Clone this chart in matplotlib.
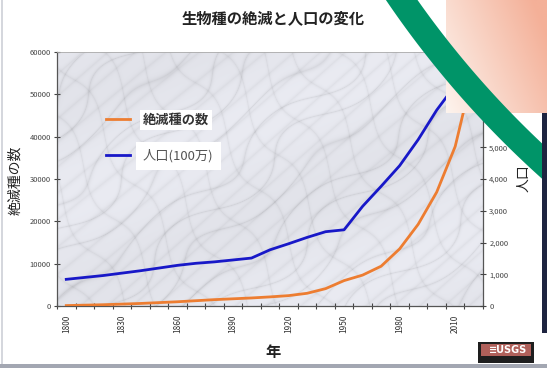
import numpy as np
import matplotlib.pyplot as plt
from matplotlib.patches import Polygon, Rectangle
from matplotlib.lines import Line2D

plt.rcParams['font.family'] = ['Noto Sans CJK JP', 'DejaVu Sans']

# decade categories 1800..2020
years = list(range(1800, 2030, 10))
extinct = [100, 200, 300, 450, 600, 800, 1000, 1250, 1500, 1700, 1900, 2150,
           2450, 3000, 4100, 6000, 7300, 9400, 13500, 19300, 26900, 37700, 56000]
population = [840, 900, 960, 1035, 1110, 1195, 1280, 1345, 1390, 1450, 1510, 1770,
              1960, 2160, 2340, 2400, 3140, 3770, 4420, 5240, 6170, 6950, 7750]
left_ticks = [0, 10000, 20000, 30000, 40000, 50000, 60000]
right_ticks = [0, 1000, 2000, 3000, 4000, 5000, 6000, 7000, 8000]
label_years = [1800, 1830, 1860, 1890, 1920, 1950, 1980, 2010]

W, H = 547, 368


def fx(x):
    return x / W


def fy(y):
    return 1 - y / H


fig = plt.figure(figsize=(W / 100, H / 100), dpi=100)
fig.patch.set_facecolor('white')

ax = fig.add_axes([fx(57), fy(306), fx(483) - fx(57), fy(52) - fy(306)])
idx = np.arange(len(years))

# marble-like background (decoration only)
gy, gx = np.mgrid[0:254, 0:426].astype(float)
t = gx * 0.045 + gy * 0.055 + 0.7 * np.sin(gx * 0.04 - gy * 0.02) + 0.5 * np.sin(gy * 0.07 + gx * 0.01)
t2 = gx * 0.06 - gy * 0.035 + 0.6 * np.cos(gx * 0.05 + gy * 0.03)
t3 = gx * 0.11 + gy * 0.13 + 0.9 * np.sin(gx * 0.021 + gy * 0.017)
v = (0.93
     - 0.07 * (1 - np.abs(np.sin(t * 1.6))) ** 7
     - 0.05 * (1 - np.abs(np.sin(t2 * 1.3))) ** 9
     - 0.04 * (1 - np.abs(np.sin(t3))) ** 3
     - 0.03 * (0.5 + 0.5 * np.sin(gx * 0.013 + gy * 0.031)))
tex = np.dstack([v * 0.985, v * 0.99, np.clip(v * 1.02, 0, 1)])
ax.imshow(tex, extent=(-0.5, len(years) - 0.5, 0, 60000), aspect='auto', zorder=0)

ax.plot(idx, extinct, color='#ED7D31', lw=2.0, solid_joinstyle='round', zorder=3)
ax.set_xlim(-0.5, len(years) - 0.5)
ax.set_ylim(0, 60000)
ax.set_yticks(left_ticks)
ax.set_yticklabels([str(v) for v in left_ticks], fontsize=5.5, color='#444')
ax.set_xticks([years.index(y) for y in label_years])
ax.set_xticklabels([str(y) for y in label_years], rotation=90, fontsize=6, color='#333')
ax.set_xticks(np.arange(-0.5, len(years)), minor=True)
ax.tick_params(axis='x', which='major', length=0, pad=6)
ax.tick_params(axis='x', which='minor', direction='inout', length=5, width=0.8, color='#444')
ax.tick_params(axis='y', direction='inout', length=5, width=0.8, color='#444', pad=2)
for s in ['left', 'bottom', 'right']:
    ax.spines[s].set_color('#555')
    ax.spines[s].set_linewidth(0.9)
ax.spines['top'].set_color('#aaa')
ax.spines['top'].set_linewidth(0.6)

ax2 = ax.twinx()
ax2.plot(idx, population, color='#1818C8', lw=2.0, solid_joinstyle='round', zorder=3)
ax2.set_ylim(0, 8000)
ax2.set_yticks(right_ticks)
ax2.set_yticklabels([f'{v:,}' for v in right_ticks], fontsize=5.5, color='#444')
ax2.tick_params(axis='y', direction='inout', length=5, width=0.8, color='#444', pad=2)
for s in ax2.spines.values():
    s.set_visible(False)

handles = [Line2D([], [], color='#ED7D31', lw=2.0), Line2D([], [], color='#1818C8', lw=2.0)]
leg = fig.legend(handles, ['絶滅種の数', '人口(100万)'], loc='upper left',
                 bbox_to_anchor=(fx(106), fy(113)), frameon=False, fontsize=9.5,
                 handlelength=1.8, handletextpad=1.0, labelspacing=1.7,
                 borderpad=0, borderaxespad=0)
t1, t2_ = leg.get_texts()
t1.set_fontweight('bold')
t1.set_color('#333')
t2_.set_color('#555')
t1.set_bbox(dict(facecolor='white', edgecolor='none', pad=2))
t2_.set_bbox(dict(facecolor='white', edgecolor='none', pad=5))

fig.text(fx(273), fy(18), '生物種の絶滅と人口の変化', ha='center', va='center',
         fontsize=11, fontweight='bold', color='#222')
fig.text(fx(15), fy(180), '絶滅種の数', ha='center', va='center', rotation=90,
         fontsize=10, color='#222')
fig.text(fx(273), fy(352), '年', ha='center', va='center', fontsize=11,
         fontweight='bold', color='#222')
fig.text(fx(523), fy(178), '人口', ha='center', va='center', rotation=90,
         fontsize=10, color='#222')

# slide decorations
peach = fig.add_axes([fx(446), fy(113), fx(547) - fx(446), fy(0) - fy(113)])
gxx = np.linspace(0, 1, 120)[None, :]
gyy = np.linspace(0, 1, 120)[:, None]
mix = np.clip(0.75 * gxx + 0.35 * (1 - gyy), 0, 1)
c0 = np.array([253, 244, 238]) / 255
c1 = np.array([244, 176, 152]) / 255
grad = c0 + (c1 - c0) * mix[..., None]
peach.imshow(grad, aspect='auto', extent=(0, 1, 0, 1))
peach.set_axis_off()
peach.set_zorder(3)

cx, cy = 1189, -544
ang = np.radians(np.linspace(120, 152, 80))
inner = [(fx(cx + 970 * np.cos(a)), fy(cy + 970 * np.sin(a))) for a in ang]
outer = [(fx(cx + 944 * np.cos(a)), fy(cy + 944 * np.sin(a))) for a in ang[::-1]]
fig.add_artist(Polygon(inner + outer, closed=True, transform=fig.transFigure,
                       facecolor='#009468', edgecolor='none', zorder=10))

fig.add_artist(Rectangle((fx(542), fy(333)), fx(547) - fx(542), fy(113) - fy(333),
                         transform=fig.transFigure, facecolor='#1E2440',
                         edgecolor='none', zorder=10))
fig.add_artist(Rectangle((0, fy(368)), 1, fy(364) - fy(368), transform=fig.transFigure,
                         facecolor='#A3A7B2', edgecolor='none', zorder=10))
fig.add_artist(Rectangle((fx(1), fy(364)), fx(2.5) - fx(1), fy(0) - fy(364),
                         transform=fig.transFigure, facecolor='#D5D7DD',
                         edgecolor='none', zorder=10))

# USGS badge
fig.add_artist(Rectangle((fx(478), fy(363)), fx(534) - fx(478), fy(342) - fy(363),
                         transform=fig.transFigure, facecolor='#1E1E1E',
                         edgecolor='none', zorder=10))
fig.add_artist(Rectangle((fx(481), fy(356)), fx(531) - fx(481), fy(344) - fy(356),
                         transform=fig.transFigure, facecolor='#B0605A',
                         edgecolor='none', zorder=11))
fig.text(fx(508), fy(350), '≡USGS', ha='center', va='center', fontsize=7,
         fontweight='bold', color='white', family=['DejaVu Sans'], zorder=12)

fig.savefig('out.png', dpi=100)
